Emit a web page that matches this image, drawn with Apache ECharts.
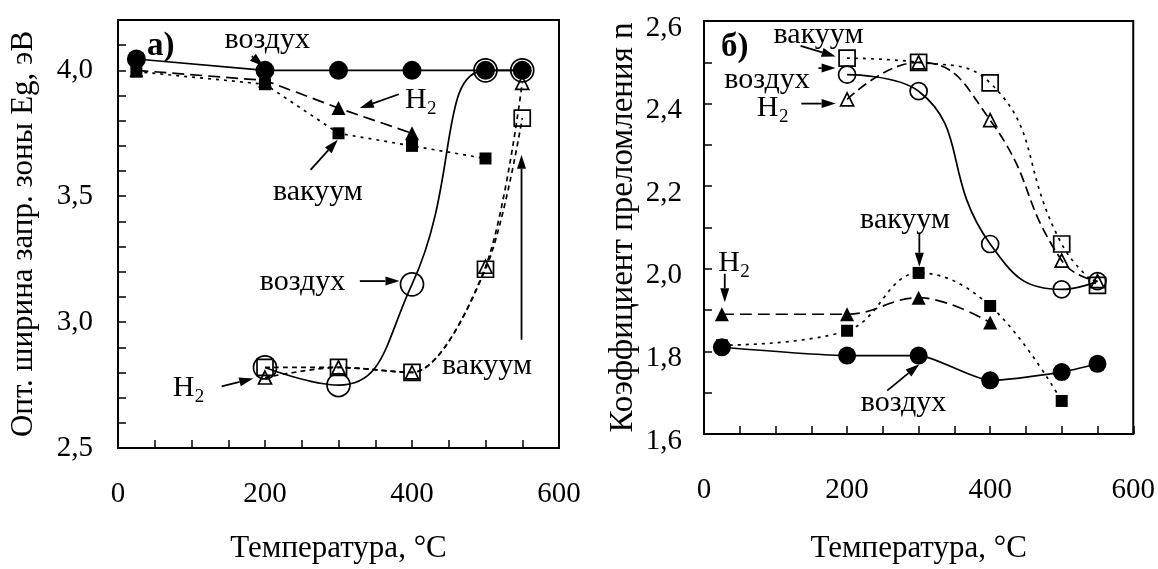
<!DOCTYPE html>
<html>
<head>
<meta charset="utf-8">
<script src="https://cdn.jsdelivr.net/npm/echarts@6/dist/echarts.min.js"></script>
<style>
  html, body { margin: 0; padding: 0; background: #fff; }
  #chart { width: 1158px; height: 569px; }
</style>
</head>
<body>
<div id="chart"></div>
<script>
// ---- panel a) : optical band gap Eg, eV ----
let aTempFilled = [25, 200, 300, 400, 500, 550];
let aAirFilled = [4.045, 4.0, 4.0, 4.0, 4.0, 4.0];
let aTempH2Filled = [25, 200, 300, 400];
let aH2Filled = [4.0, 3.96, 3.85, 3.75];
let aTempVacFilled = [25, 200, 300, 400, 500];
let aVacFilled = [3.995, 3.945, 3.75, 3.70, 3.65];
let aTempOpen = [200, 300, 400, 500, 550];
let aAirOpen = [2.82, 2.75, 3.15, 4.0, 4.0];
let aVacOpen = [2.82, 2.82, 2.80, 3.21, 3.81];
let aH2Open = [2.78, 2.82, 2.80, 3.22, 3.95];

// ---- panel б) : refractive index n ----
let bTempFilled = [25, 200, 300, 400, 500, 550];
let bAirFilled = [1.81, 1.79, 1.79, 1.73, 1.75, 1.77];
let bTempH2Filled = [25, 200, 300, 400];
let bH2Filled = [1.89, 1.89, 1.93, 1.87];
let bTempVacFilled = [25, 200, 300, 400, 500];
let bVacFilled = [1.815, 1.85, 1.99, 1.91, 1.68];
let bTempOpen = [200, 300, 400, 500, 550];
let bAirOpen = [2.47, 2.43, 2.06, 1.95, 1.97];
let bVacOpen = [2.51, 2.50, 2.45, 2.06, 1.96];
let bH2Open = [2.41, 2.50, 2.36, 2.02, 1.97];

// annotation texts [text, x, y] and arrows [x0, y0, x1, y1], in data units
let aLabels = [
    ['а)', 58, 4.095],
    ['воздух', 203, 4.119],
    ['H2', 412, 3.882],
    ['вакуум', 272, 3.515],
    ['воздух', 251, 3.16],
    ['H2', 96, 2.737],
    ['вакуум', 502, 2.824]
];
let aArrows = [
    [182, 4.056, 198, 4.016],
    [382, 3.905, 329, 3.85],
    [262, 3.605, 299, 3.724],
    [329, 3.163, 383, 3.163],
    [141, 2.745, 184, 2.776],
    [549, 2.93, 549, 3.665]
];
let bLabels = [
    ['б)', 43, 2.536],
    ['вакуум', 160, 2.567],
    ['воздух', 88, 2.457],
    ['H2', 96, 2.39],
    ['вакуум', 281, 2.117],
    ['H2', 42, 2.014],
    ['воздух', 279, 1.674]
];
let bArrows = [
    [135, 2.54, 184, 2.514],
    [160, 2.486, 184, 2.486],
    [136, 2.40, 184, 2.40],
    [301, 2.086, 301, 2.005],
    [29, 1.988, 29, 1.919],
    [256, 1.705, 301, 1.769]
];

const FONT = 'Liberation Serif';

function pairs(xs, ys) {
    return xs.map((x, i) => [x, ys[i]]);
}

function mkSeries(gi, xs, ys, sym, size, filled, dash, smooth) {
    return {
        type: 'line',
        xAxisIndex: gi,
        yAxisIndex: gi,
        data: pairs(xs, ys),
        symbol: sym,
        symbolSize: size,
        smooth: smooth,
        itemStyle: {
            color: filled ? '#000' : 'rgba(0,0,0,0)',
            borderColor: '#000',
            borderWidth: filled ? 0 : 1.7
        },
        lineStyle: { color: '#000', width: 1.7, type: dash },
        emphasis: { disabled: true },
        z: filled ? 3 : 4
    };
}

function xAxisFor(gi, margin, gap) {
    return {
        gridIndex: gi,
        type: 'value',
        min: 0, max: 600, interval: 50,
        axisLine: { lineStyle: { color: '#000', width: 2 } },
        axisTick: { inside: true, length: 8, lineStyle: { color: '#000', width: 1.5 } },
        axisLabel: {
            margin: margin, fontSize: 29, fontFamily: FONT, color: '#000',
            formatter: v => (v % 200 === 0 ? String(v) : '')
        },
        splitLine: { show: false },
        name: 'Температура, °C',
        nameLocation: 'middle',
        nameGap: gap,
        nameTextStyle: { fontSize: 31, fontFamily: FONT, color: '#000' }
    };
}

function yAxisFor(gi, min, max, every, name, margin, gap, nameSize, shifted) {
    let label = {
        margin: margin, fontSize: 29, fontFamily: FONT, color: '#000',
        formatter: v => (Math.round(v * 10) % every === 0 ? v.toFixed(1).replace('.', ',') : '')
    };
    if (shifted) {
        // labels of panel б) sit a little below their ticks
        label.verticalAlign = 'top';
        label.lineHeight = 14;
    }
    return {
        gridIndex: gi,
        type: 'value',
        min: min, max: max, interval: 0.1,
        axisLine: { lineStyle: { color: '#000', width: 2 } },
        axisTick: { inside: true, length: 8, lineStyle: { color: '#000', width: 1.5 } },
        axisLabel: label,
        splitLine: { show: false },
        name: name,
        nameLocation: 'middle',
        nameGap: gap,
        nameTextStyle: { fontSize: nameSize, fontFamily: FONT, color: '#000' }
    };
}

let chart = echarts.init(document.getElementById('chart'));
let option = {
    animation: false,
    backgroundColor: '#fff',
    grid: [
        { left: 118, top: 20, width: 441, height: 432, show: true, borderColor: '#000', borderWidth: 2 },
        { left: 704, top: 21, width: 431, height: 421, show: true, borderColor: '#000', borderWidth: 2 }
    ],
    xAxis: [xAxisFor(0, 32, 85), xAxisFor(1, 42, 99)],
    yAxis: [
        yAxisFor(0, 2.5, 4.2, 5, 'Опт. ширина запр. зоны Eg, эВ', 25, 79, 31, false),
        yAxisFor(1, 1.6, 2.6, 2, 'Коэффициент преломления n', 22, 64, 33, true)
    ],
    series: [
        mkSeries(0, aTempFilled, aAirFilled, 'circle', 19, true, 'solid', false),
        mkSeries(0, aTempH2Filled, aH2Filled, 'triangle', 14, true, [12, 6], false),
        mkSeries(0, aTempVacFilled, aVacFilled, 'rect', 12, true, [3, 5], false),
        mkSeries(0, aTempOpen, aAirOpen, 'circle', 23, false, 'solid', 0.5),
        mkSeries(0, aTempOpen, aVacOpen, 'rect', 16, false, [5, 4], 0.3),
        mkSeries(0, aTempOpen, aH2Open, 'triangle', 13, false, [5, 4], 0.3),

        mkSeries(1, bTempFilled, bAirFilled, 'circle', 18, true, 'solid', 0.2),
        mkSeries(1, bTempH2Filled, bH2Filled, 'triangle', 14, true, [12, 6], 0.4),
        mkSeries(1, bTempVacFilled, bVacFilled, 'rect', 12, true, [3, 5], 0.4),
        mkSeries(1, bTempOpen, bAirOpen, 'circle', 17, false, 'solid', 0.5),
        mkSeries(1, bTempOpen, bVacOpen, 'rect', 16, false, [3, 5], 0.5),
        mkSeries(1, bTempOpen, bH2Open, 'triangle', 13, false, [10, 5], 0.5)
    ]
};
chart.setOption(option);

// annotations, placed through the axes
function textEl(txt, p, size, bold) {
    return {
        type: 'text', x: p[0], y: p[1], z: 10,
        style: {
            text: txt, fontSize: size, fontFamily: FONT, fontWeight: bold ? 'bold' : 'normal',
            fill: '#000', align: 'center', verticalAlign: 'middle'
        }
    };
}

function arrowEls(p0, p1) {
    let dx = p1[0] - p0[0], dy = p1[1] - p0[1];
    let len = Math.sqrt(dx * dx + dy * dy);
    let ux = dx / len, uy = dy / len;
    let hl = 14, hw = 4.5;
    let bx = p1[0] - ux * hl, by = p1[1] - uy * hl;
    return [
        {
            type: 'line', z: 10,
            shape: { x1: p0[0], y1: p0[1], x2: bx, y2: by },
            style: { stroke: '#000', lineWidth: 1.8 }
        },
        {
            type: 'polygon', z: 10,
            shape: { points: [[p1[0], p1[1]], [bx - uy * hw, by + ux * hw], [bx + uy * hw, by - ux * hw]] },
            style: { fill: '#000' }
        }
    ];
}

let elements = [];
[[0, aLabels, aArrows], [1, bLabels, bArrows]].forEach(function (set) {
    let gi = set[0];
    set[1].forEach(function (l) {
        let p = chart.convertToPixel({ gridIndex: gi }, [l[1], l[2]]);
        if (l[0] === 'H2') {
            elements.push(textEl('H', [p[0] - 5, p[1]], 30, false));
            elements.push(textEl('2', [p[0] + 11, p[1] + 9], 19, false));
        } else if (l[0].endsWith(')')) {
            elements.push(textEl(l[0], p, 33, true));
        } else {
            elements.push(textEl(l[0], p, 30, false));
        }
    });
    set[2].forEach(function (a) {
        let p0 = chart.convertToPixel({ gridIndex: gi }, [a[0], a[1]]);
        let p1 = chart.convertToPixel({ gridIndex: gi }, [a[2], a[3]]);
        elements = elements.concat(arrowEls(p0, p1));
    });
});
chart.setOption({ graphic: elements });
</script>
</body>
</html>
